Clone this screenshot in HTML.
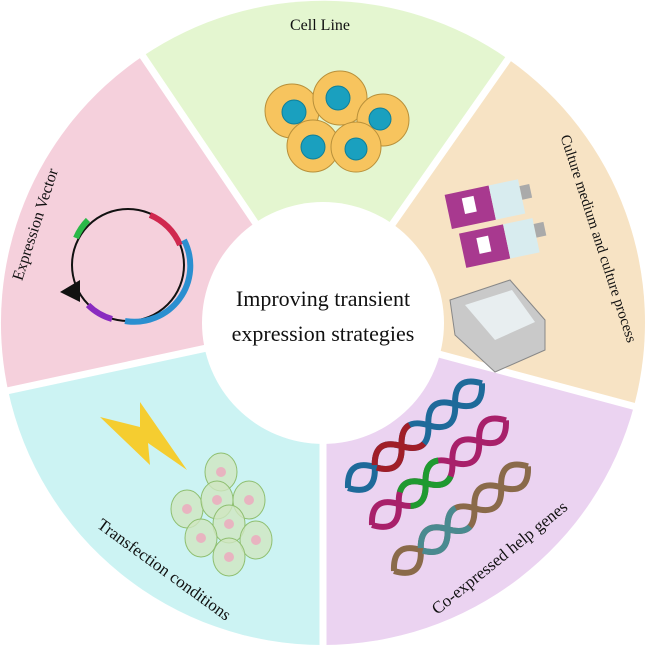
<!DOCTYPE html>
<html><head><meta charset="utf-8"><style>
html,body{margin:0;padding:0;background:#fff;}
svg{display:block;}
text{font-family:"Liberation Serif",serif;fill:#111;}
</style></head><body>
<svg width="646" height="647" viewBox="0 0 646 647">
<defs>
<path id="hA" d="M0,0 Q17,-24 34,0 T68,0 T102,0 T136,0 T170,0"/>
<path id="hB" d="M0,0 Q17,24 34,0 T68,0 T102,0 T136,0 T170,0"/>
</defs>
<g>
<path d="M323,323 L143,56 A322,322 0 0 1 508,59 Z" fill="#e4f6d0"/>
<path d="M323,323 L508,59 A322,322 0 0 1 634,406 Z" fill="#f7e3c4"/>
<path d="M323,323 L634,406 A322,322 0 0 1 323,645 Z" fill="#ebd3f1"/>
<path d="M323,323 L323,645 A322,322 0 0 1 8,390 Z" fill="#ccf3f3"/>
<path d="M323,323 L8,390 A322,322 0 0 1 143,56 Z" fill="#f5d0dc"/>
<g stroke="#fff" stroke-width="7">
<line x1="323" y1="323" x2="140" y2="52"/>
<line x1="323" y1="323" x2="511" y2="55"/>
<line x1="323" y1="323" x2="640" y2="408"/>
<line x1="323" y1="323" x2="323" y2="647"/>
<line x1="323" y1="323" x2="2" y2="392"/>
</g>
<circle cx="323" cy="323" r="121" fill="#fff"/>
</g>
<text x="323" y="306" font-size="22" text-anchor="middle">Improving transient</text>
<text x="323" y="341" font-size="22" text-anchor="middle">expression strategies</text>
<text x="320" y="30" font-size="16" text-anchor="middle">Cell Line</text>
<text transform="translate(40,226) rotate(-72)" font-size="16" text-anchor="middle">Expression Vector</text>
<text transform="translate(594,240) rotate(72)" font-size="15" text-anchor="middle">Culture medium and culture process</text>
<text transform="translate(161,574) rotate(36)" font-size="17" text-anchor="middle">Transfection conditions</text>
<text transform="translate(503,562) rotate(-39)" font-size="17" text-anchor="middle">Co-expressed help genes</text>
<!-- cells -->
<g stroke="#b8903a" stroke-width="1">
<g fill="#f7c45e">
<circle cx="292" cy="111" r="27"/><circle cx="340" cy="98" r="27"/><circle cx="383" cy="120" r="26"/><circle cx="313" cy="146" r="26"/><circle cx="356" cy="147" r="25"/>
</g>
<g fill="#1aa0bf" stroke="#0f7f99">
<circle cx="294" cy="112" r="12"/><circle cx="338" cy="98" r="12"/><circle cx="380" cy="119" r="11"/><circle cx="313" cy="147" r="12"/><circle cx="356" cy="149" r="11"/>
</g>
</g>
<!-- plasmid -->
<circle cx="128" cy="265" r="56" fill="none" stroke="#111" stroke-width="2"/>
<path d="M150,215 A56,56 0 0 1 180,245" fill="none" stroke="#d0284f" stroke-width="6"/>
<path d="M184,240 A56,56 0 0 1 125,321" fill="none" stroke="#2a8fd0" stroke-width="6"/>
<path d="M112,319 A56,56 0 0 1 88,305" fill="none" stroke="#8a2bc0" stroke-width="6"/>
<path d="M76,238 A56,56 0 0 1 88,220" fill="none" stroke="#2ab848" stroke-width="6"/>
<polygon points="60,292 80,280 80,302" fill="#111"/>
<!-- flasks -->
<g transform="rotate(-12 495 225)">
<rect x="452" y="185" width="45" height="35" fill="#a8398f"/><rect x="497" y="185" width="30" height="35" fill="#d8ecef"/><rect x="527" y="192" width="10" height="14" fill="#aaa"/>
<rect x="458" y="226" width="45" height="35" fill="#a8398f"/><rect x="503" y="226" width="30" height="35" fill="#d8ecef"/><rect x="533" y="232" width="10" height="14" fill="#aaa"/>
<rect x="468" y="192" width="12" height="16" fill="#fff"/><rect x="474" y="234" width="12" height="16" fill="#fff"/>
</g>
<polygon points="450,300 510,280 545,320 545,350 495,372 455,335" fill="#c9c9c9" stroke="#888"/>
<polygon points="465,305 512,290 535,322 495,340" fill="#e8eef0"/>
<!-- lightning -->
<polygon points="100,417 140,427 140,402 187,470 148,443 150,465" fill="#f5cd30"/>
<!-- green cells -->
<g fill="#cfe6c0" fill-opacity="0.8" stroke="#8fbf70">
<ellipse cx="221" cy="472" rx="16" ry="19"/><ellipse cx="187" cy="509" rx="16" ry="19"/><ellipse cx="217" cy="500" rx="16" ry="19"/><ellipse cx="249" cy="500" rx="16" ry="19"/><ellipse cx="229" cy="524" rx="16" ry="19"/><ellipse cx="201" cy="538" rx="16" ry="19"/><ellipse cx="256" cy="540" rx="16" ry="19"/><ellipse cx="229" cy="557" rx="16" ry="19"/>
</g>
<g fill="#e8b4c0"><circle cx="221" cy="472" r="5"/><circle cx="187" cy="509" r="5"/><circle cx="217" cy="500" r="5"/><circle cx="249" cy="500" r="5"/><circle cx="229" cy="524" r="5"/><circle cx="201" cy="538" r="5"/><circle cx="256" cy="540" r="5"/><circle cx="229" cy="557" r="5"/></g>
<!-- DNA -->
<g fill="none" stroke-width="6">
<g transform="translate(348,488) rotate(-38)">
<use href="#hA" stroke="#1e6a9a"/><use href="#hB" stroke="#1e6a9a"/>
<use href="#hA" stroke="#a01e28" stroke-dasharray="0 45 65 300"/><use href="#hB" stroke="#a01e28" stroke-dasharray="0 45 65 300"/>
</g>
<g transform="translate(372,525) rotate(-38)">
<use href="#hA" stroke="#a8206a"/><use href="#hB" stroke="#a8206a"/>
<use href="#hA" stroke="#1f9a30" stroke-dasharray="0 55 60 300"/><use href="#hB" stroke="#1f9a30" stroke-dasharray="0 55 60 300"/>
</g>
<g transform="translate(394,571) rotate(-38)">
<use href="#hA" stroke="#8a6a4a"/><use href="#hB" stroke="#8a6a4a"/>
<use href="#hA" stroke="#4a8a90" stroke-dasharray="0 45 65 300"/><use href="#hB" stroke="#4a8a90" stroke-dasharray="0 45 65 300"/>
</g>
</g>
</svg>
</body></html>
